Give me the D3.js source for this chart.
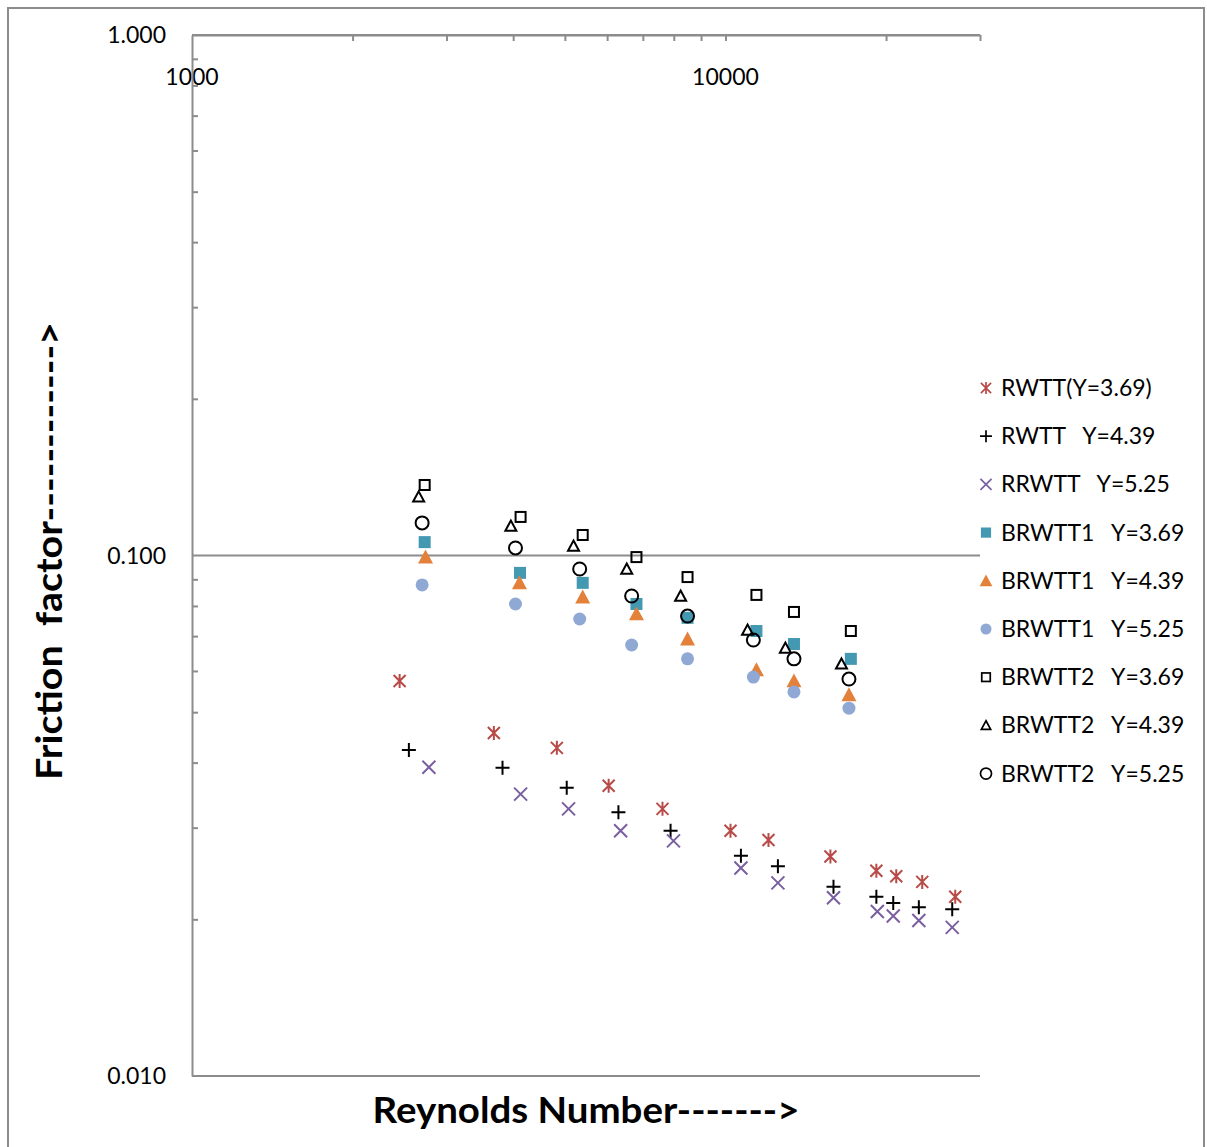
<!DOCTYPE html>
<html>
<head>
<meta charset="utf-8">
<script src="https://cdn.jsdelivr.net/npm/d3@7"></script>
<style>
  body { margin: 0; background: #fff; }
  text { font-family: Lato, "Open Sans", sans-serif; fill: #000; }
</style>
</head>
<body>
<script>
// ---- data ----
var seriesNames = ["RWTT(Y=3.69)", "RWTT   Y=4.39", "RRWTT   Y=5.25",
  "BRWTT1   Y=3.69", "BRWTT1   Y=4.39", "BRWTT1   Y=5.25",
  "BRWTT2   Y=3.69", "BRWTT2   Y=4.39", "BRWTT2   Y=5.25"];

var rwtt369Re = [2450, 3680, 4830, 6040, 7620, 10220, 12040, 15730, 19180, 20900, 23380, 26960];
var rwtt369F  = [0.0574, 0.0456, 0.0427, 0.0361, 0.0326, 0.0296, 0.0284, 0.0264, 0.0248, 0.0242, 0.0236, 0.0221];
var rwtt439Re = [2550, 3820, 5040, 6300, 7890, 10690, 12540, 15940, 19180, 20630, 23040, 26610];
var rwtt439F  = [0.0423, 0.0391, 0.0358, 0.0321, 0.0296, 0.0265, 0.0253, 0.0231, 0.0221, 0.0215, 0.0211, 0.0209];
var rrwtt525Re = [2780, 4130, 5080, 6360, 7990, 10690, 12540, 15940, 19260, 20630, 23040, 26610];
var rrwtt525F  = [0.0392, 0.0348, 0.0326, 0.0296, 0.0283, 0.0251, 0.0235, 0.0220, 0.0207, 0.0203, 0.0199, 0.0193];

var brwtt1_369Re = [2730, 4120, 5400, 6810, 8490, 11430, 13440, 17180];
var brwtt1_369F  = [0.1061, 0.0926, 0.0886, 0.0807, 0.0759, 0.0716, 0.0676, 0.0633];
var brwtt1_439Re = [2740, 4110, 5400, 6810, 8490, 11430, 13440, 17040];
var brwtt1_439F  = [0.0993, 0.0886, 0.0832, 0.0772, 0.0691, 0.0603, 0.0574, 0.0540];
var brwtt1_525Re = [2700, 4040, 5330, 6670, 8490, 11280, 13440, 17040];
var brwtt1_525F  = [0.0878, 0.0807, 0.0755, 0.0673, 0.0633, 0.0584, 0.0547, 0.0509];

var brwtt2_369Re = [2730, 4130, 5400, 6810, 8490, 11430, 13440, 17180];
var brwtt2_369F  = [0.1366, 0.1186, 0.1095, 0.0993, 0.0909, 0.0840, 0.0779, 0.0716];
var brwtt2_439Re = [2660, 3960, 5190, 6530, 8240, 11000, 12950, 16500];
var brwtt2_439F  = [0.1296, 0.1139, 0.1043, 0.0942, 0.0836, 0.0719, 0.0664, 0.0619];
var brwtt2_525Re = [2700, 4040, 5330, 6670, 8490, 11280, 13440, 17040];
var brwtt2_525F  = [0.1155, 0.1034, 0.0942, 0.0836, 0.0765, 0.0688, 0.0633, 0.0579];

var xTickLabels = [1000, 10000];
var yTickLabels = [1, 0.1, 0.01];
var xMinorTicks = [2000, 3000, 4000, 5000, 6000, 7000, 8000, 9000, 20000, 30000];
var yMinorTicks = [0.9, 0.8, 0.7, 0.6, 0.5, 0.4, 0.3, 0.2, 0.09, 0.08, 0.07, 0.06, 0.05, 0.04, 0.03, 0.02];

main();

function main() {
  setupCanvas();
  setupScales();
  drawGridAndAxes();
  drawPoints();
  drawLegend();
  drawTitles();
}

function setupCanvas() {
  W = 1207; H = 1147;
  plot = { left: 192, right: 980, top: 35, bottom: 1076 };
  svg = d3.select("body").append("svg")
    .attr("width", W)
    .attr("height", H);
  svg.append("rect")
    .attr("x", 8).attr("y", 8)
    .attr("width", 1196).attr("height", 1150)
    .attr("fill", "#fff")
    .attr("stroke", "#8c8c8c")
    .attr("stroke-width", 2);

  series = [
    { name: seriesNames[0], re: rwtt369Re, f: rwtt369F, shape: "star", color: "#B84A47" },
    { name: seriesNames[1], re: rwtt439Re, f: rwtt439F, shape: "plus", color: "#000" },
    { name: seriesNames[2], re: rrwtt525Re, f: rrwtt525F, shape: "cross", color: "#7A5FA0" },
    { name: seriesNames[3], re: brwtt1_369Re, f: brwtt1_369F, shape: "square", color: "#4499B2", fill: true },
    { name: seriesNames[4], re: brwtt1_439Re, f: brwtt1_439F, shape: "triangle", color: "#E3813A", fill: true },
    { name: seriesNames[5], re: brwtt1_525Re, f: brwtt1_525F, shape: "circle", color: "#8FA9D4", fill: true },
    { name: seriesNames[6], re: brwtt2_369Re, f: brwtt2_369F, shape: "square", color: "#000" },
    { name: seriesNames[7], re: brwtt2_439Re, f: brwtt2_439F, shape: "triangle", color: "#000" },
    { name: seriesNames[8], re: brwtt2_525Re, f: brwtt2_525F, shape: "circle", color: "#000" }
  ];
}

function setupScales() {
  x = d3.scaleLog().domain([1000, 30000]).range([plot.left, plot.right]);
  y = d3.scaleLog().domain([0.01, 1]).range([plot.bottom, plot.top]);
}

function drawGridAndAxes() {
  var axisColor = "#8c8c8c";
  // major horizontal gridlines
  svg.append("g").selectAll("line")
    .data(yTickLabels)
    .enter().append("line")
    .attr("x1", plot.left).attr("x2", plot.right)
    .attr("y1", function (d) { return y(d); })
    .attr("y2", function (d) { return y(d); })
    .attr("stroke", axisColor).attr("stroke-width", 2);

  // x axis along the top, ticks pointing in
  var xAxis = d3.axisBottom(x)
    .tickValues(xMinorTicks.concat(xTickLabels.slice(1)))
    .tickFormat("")
    .tickSize(6)
    .tickSizeOuter(0);
  var gx = svg.append("g")
    .attr("transform", "translate(0," + plot.top + ")")
    .call(xAxis);
  gx.select(".domain").attr("stroke", axisColor).attr("stroke-width", 2);
  gx.selectAll(".tick line").attr("stroke", axisColor).attr("stroke-width", 2);

  svg.append("g").selectAll("text")
    .data(xTickLabels)
    .enter().append("text")
    .attr("x", function (d) { return x(d); })
    .attr("y", 85)
    .attr("text-anchor", "middle")
    .style("font-size", "23px")
    .text(function (d) { return d; });

  // y axis with inward minor ticks
  var yAxis = d3.axisRight(y)
    .tickValues(yMinorTicks)
    .tickFormat("")
    .tickSize(6)
    .tickSizeOuter(0);
  var gy = svg.append("g")
    .attr("transform", "translate(" + plot.left + ",0)")
    .call(yAxis);
  gy.select(".domain").attr("stroke", axisColor).attr("stroke-width", 2);
  gy.selectAll(".tick line").attr("stroke", axisColor).attr("stroke-width", 2);

  svg.append("g").selectAll("text")
    .data(yTickLabels)
    .enter().append("text")
    .attr("x", 166)
    .attr("y", function (d) { return y(d) + 8; })
    .attr("text-anchor", "end")
    .style("font-size", "23px")
    .text(function (d) { return d3.format(".3f")(d); });
}

function markerPath(shape) {
  if (shape === "star") {
    return "M-6,-6L6,6M-6,6L6,-6M0,-7L0,7";
  }
  if (shape === "plus") {
    return "M-7,0L7,0M0,-7L0,7";
  }
  if (shape === "cross") {
    return "M-6.5,-6.5L6.5,6.5M-6.5,6.5L6.5,-6.5";
  }
  return null;
}

function appendMarker(g, s) {
  var p = markerPath(s.shape);
  if (p) {
    g.append("path").attr("d", p)
      .attr("stroke", s.color).attr("stroke-width", 2).attr("fill", "none");
    return;
  }
  if (s.shape === "square") {
    var h = s.fill ? 6 : 5;
    g.append("rect").attr("x", -h).attr("y", -h)
      .attr("width", 2 * h).attr("height", 2 * h)
      .attr("fill", s.fill ? s.color : "none")
      .attr("stroke", s.fill ? "none" : s.color)
      .attr("stroke-width", 2);
  } else if (s.shape === "triangle") {
    var r = s.fill ? 7.5 : 5.5;
    g.append("path")
      .attr("d", "M0," + (-r) + "L" + (r) + "," + (r * 0.85) + "L" + (-r) + "," + (r * 0.85) + "Z")
      .attr("fill", s.fill ? s.color : "none")
      .attr("stroke", s.fill ? "none" : s.color)
      .attr("stroke-width", 2);
  } else if (s.shape === "circle") {
    g.append("circle").attr("r", 6.5)
      .attr("fill", s.fill ? s.color : "none")
      .attr("stroke", s.fill ? "none" : s.color)
      .attr("stroke-width", 2);
  }
}

function drawPoints() {
  series.forEach(function (s) {
    var pts = s.re.map(function (r, i) { return { re: r, f: s.f[i] }; });
    svg.append("g").selectAll("g")
      .data(pts)
      .enter().append("g")
      .attr("transform", function (d) { return "translate(" + x(d.re) + "," + y(d.f) + ")"; })
      .each(function () { appendMarker(d3.select(this), s); });
  });
}

function drawLegend() {
  var lg = svg.append("g");
  series.forEach(function (s, i) {
    var yy = 388 + i * 48.2;
    var g = lg.append("g").attr("transform", "translate(986," + yy + ")");
    var m = g.append("g").attr("transform", "scale(0.85)");
    appendMarker(m, s);
    g.append("text")
      .attr("x", 15).attr("y", 8)
      .attr("xml:space", "preserve")
      .style("white-space", "pre")
      .style("font-size", "23px")
      .text(s.name);
  });
}

function drawTitles() {
  svg.append("text")
    .attr("x", 586).attr("y", 1123)
    .attr("text-anchor", "middle")
    .attr("textLength", 427)
    .attr("lengthAdjust", "spacingAndGlyphs")
    .style("font-size", "37px")
    .style("font-weight", "bold")
    .text("Reynolds Number------->");

  svg.append("text")
    .attr("transform", "translate(62,551) rotate(-90)")
    .attr("text-anchor", "middle")
    .attr("textLength", 458)
    .attr("lengthAdjust", "spacingAndGlyphs")
    .attr("xml:space", "preserve")
    .style("white-space", "pre")
    .style("font-size", "37px")
    .style("font-weight", "bold")
    .text("Friction  factor------------>");
}
</script>
</body>
</html>
